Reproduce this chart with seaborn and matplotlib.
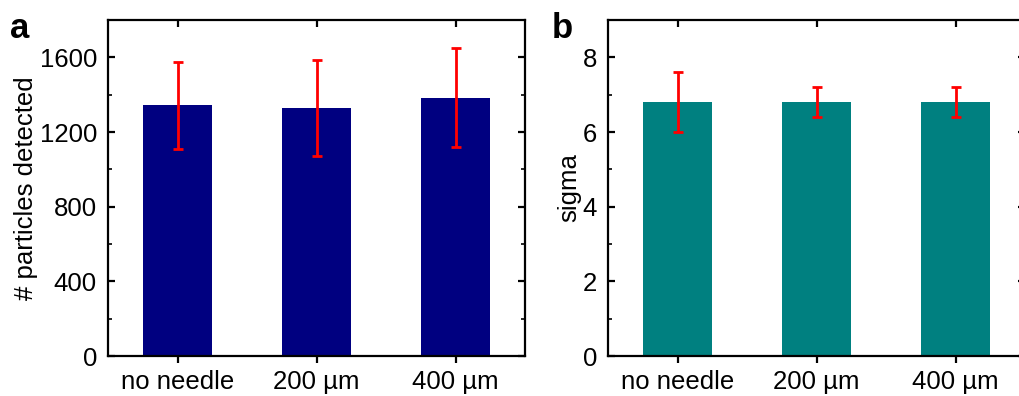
import matplotlib
matplotlib.use("Agg")
import matplotlib.pyplot as plt
import seaborn as sns
import pandas as pd
import numpy as np
from matplotlib.ticker import MultipleLocator

categories = ["no needle", "200 \u00b5m", "400 \u00b5m"]
particles = [1343, 1329, 1384]
particles_err = [232, 259, 265]
sigma = [6.8, 6.8, 6.8]
sigma_err = [0.8, 0.41, 0.41]

sns.set_theme(style="ticks")
plt.rcParams['font.family'] = ['Liberation Sans', 'DejaVu Sans']
plt.rcParams['text.color'] = 'black'
plt.rcParams['axes.labelcolor'] = 'black'
plt.rcParams['xtick.color'] = 'black'
plt.rcParams['ytick.color'] = 'black'

fig = plt.figure(figsize=(10.19, 3.96), dpi=100)
ax_a = fig.add_axes([108/1019, 40/396, (525-108)/1019, 336/396])
ax_b = fig.add_axes([608/1019, 40/396, (1025-608)/1019, 336/396])

def panel(ax, vals, errs, color, ylabel, ylim, major, minor):
    df = pd.DataFrame({"cat": categories, "val": vals})
    sns.barplot(data=df, x="cat", y="val", color=color, width=0.5, ax=ax,
                saturation=1, edgecolor="none", errorbar=None)
    xs = np.arange(len(categories))
    ax.errorbar(xs, vals, yerr=errs, fmt="none", ecolor="#ff0000",
                elinewidth=2, capsize=3.5, capthick=2, zorder=5)
    ax.set_xlim(-0.5, 2.5)
    ax.set_ylim(*ylim)
    ax.yaxis.set_major_locator(MultipleLocator(major))
    ax.yaxis.set_minor_locator(MultipleLocator(minor))
    ax.set_xlabel("")
    ax.set_ylabel(ylabel, fontsize=18.5, labelpad=1, color="black")
    for s in ax.spines.values():
        s.set_visible(True)
        s.set_linewidth(1.6)
        s.set_color("black")
    ax.tick_params(axis="x", which="major", direction="out", length=5, width=1.6,
                   labelsize=18.5, top=True, bottom=True, pad=5, colors="black")
    ax.tick_params(axis="y", which="major", direction="in", length=5, width=1.6,
                   labelsize=18.5, left=True, right=True, pad=8, colors="black")
    ax.tick_params(axis="y", which="minor", direction="in", length=3, width=1.2,
                   left=True, right=True, colors="black")
    for t in ax.xaxis.get_major_ticks():
        t.tick2line.set_marker(3)  # top ticks point inward
    ax.set_facecolor("white")

panel(ax_a, particles, particles_err, "#000080", "# particles detected", (0, 1800), 400, 200)
panel(ax_b, sigma, sigma_err, "#008080", "sigma", (0, 9), 2, 1)

fig.text(10/1019, 1 - 38/396, "a", fontsize=25, fontweight="bold", color="black")
fig.text(552/1019, 1 - 38/396, "b", fontsize=25, fontweight="bold", color="black")

fig.savefig("out.png", dpi=100)
